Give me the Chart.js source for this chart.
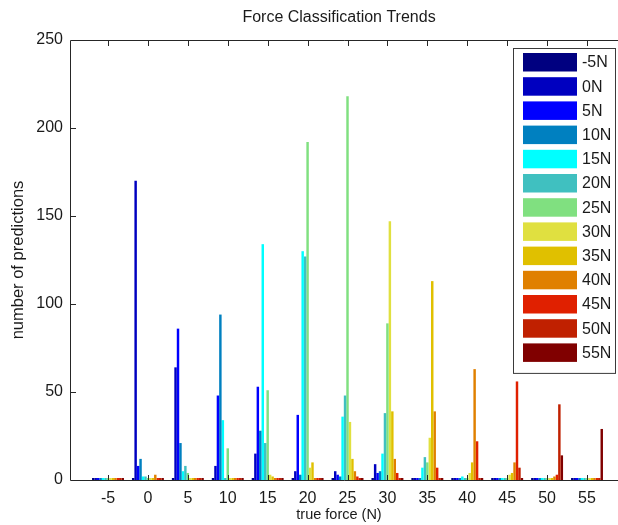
<!DOCTYPE html>
<html>
<head>
<meta charset="utf-8">
<title>Force Classification Trends</title>
<script src="https://cdn.jsdelivr.net/npm/chart.js@4.4.1/dist/chart.umd.min.js"></script>
<style>
  html, body { margin: 0; padding: 0; background: #fff; overflow: hidden; }
  canvas { display: block; }
</style>
</head>
<body>
<canvas id="forceChart" width="618" height="525"></canvas>
<script>
// true force of each group (x axis), in N
var trueForce = [-5, 0, 5, 10, 15, 20, 25, 30, 35, 40, 45, 50, 55];
var yTicks = [0, 50, 100, 150, 200, 250];

// number of predictions of each class, one value per true force
var predM5 = [0, 0, 0, 0, 0, 0, 0, 0, 0, 0, 0, 0, 0];
var pred0  = [0, 170, 64, 8, 15, 5, 5, 9, 0, 0, 0, 0, 0];
var pred5  = [0, 8, 86, 48, 53, 37, 3, 4, 1, 0, 0, 0, 0];
var pred10 = [0, 12, 21, 94, 28, 3, 2, 5, 0, 0, 0, 0, 0];
var pred15 = [0, 2, 5, 34, 134, 130, 36, 15, 7, 2, 0, 0, 0];
var pred20 = [0, 2, 8, 1, 21, 127, 48, 38, 13, 1, 0, 0, 0];
var pred25 = [0, 1, 4, 18, 51, 192, 218, 89, 10, 1, 0, 0, 0];
var pred30 = [0, 0, 0, 1, 3, 7, 33, 147, 24, 4, 3, 1, 0];
var pred35 = [0, 0, 0, 0, 2, 10, 12, 39, 113, 10, 4, 0, 0];
var pred40 = [0, 3, 0, 0, 1, 0, 5, 12, 39, 63, 10, 2, 0];
var pred45 = [0, 0, 0, 0, 0, 0, 2, 4, 7, 22, 56, 3, 0];
var pred50 = [0, 0, 0, 0, 0, 0, 0, 0, 0, 0, 7, 43, 0];
var pred55 = [0, 0, 0, 0, 0, 0, 0, 0, 0, 0, 1, 14, 29];

var seriesLabels = ['-5N', '0N', '5N', '10N', '15N', '20N', '25N', '30N', '35N', '40N', '45N', '50N', '55N'];
var seriesColors = ['#000080', '#0000c0', '#0000ff', '#0080c0', '#00ffff', '#40c0c0', '#80e080',
                    '#e0e040', '#e0c000', '#e08000', '#e02000', '#c02000', '#800000'];
var seriesValues = [predM5, pred0, pred5, pred10, pred15, pred20, pred25, pred30, pred35, pred40, pred45, pred50, pred55];

var fontFamily = '"Liberation Sans", Arial, sans-serif';
var textColor = '#1a1a1a';
var axisColor = '#262626';

var datasets = seriesValues.map(function(values, i) {
  return {
    label: seriesLabels[i],
    data: values.map(function(v, j) { return {x: trueForce[j], y: v}; }),
    backgroundColor: seriesColors[i],
    borderWidth: 0,
    minBarLength: 2,
    categoryPercentage: 0.8,
    barPercentage: 1,
    clip: false
  };
});

// matlab like box, inward ticks and boxed legend
var matlabAxes = {
  id: 'matlabAxes',
  beforeDatasetsDraw: function(chart) {
    var a = chart.chartArea, ctx = chart.ctx;
    ctx.save();
    ctx.strokeStyle = axisColor;
    ctx.lineWidth = 1;
    ctx.beginPath();
    ctx.moveTo(chart.width, Math.round(a.top) + 0.5);
    ctx.lineTo(Math.round(a.left) + 0.5, Math.round(a.top) + 0.5);
    ctx.lineTo(Math.round(a.left) + 0.5, Math.round(a.bottom) + 0.5);
    ctx.lineTo(chart.width, Math.round(a.bottom) + 0.5);
    ctx.stroke();
    ctx.restore();
  },
  afterDatasetsDraw: function(chart) {
    var a = chart.chartArea, ctx = chart.ctx;
    var xs = chart.scales.x, ys = chart.scales.y;
    ctx.save();
    ctx.strokeStyle = axisColor;
    ctx.lineWidth = 1;
    ctx.beginPath();
    trueForce.forEach(function(v) {
      var px = Math.round(xs.getPixelForValue(v)) + 0.5;
      ctx.moveTo(px, Math.round(a.bottom));
      ctx.lineTo(px, Math.round(a.bottom) - 5);
      ctx.moveTo(px, Math.round(a.top) + 1);
      ctx.lineTo(px, Math.round(a.top) + 6);
    });
    yTicks.forEach(function(v) {
      var py = Math.round(ys.getPixelForValue(v)) + 0.5;
      ctx.moveTo(Math.round(a.left) + 1, py);
      ctx.lineTo(Math.round(a.left) + 6, py);
    });
    ctx.stroke();
    ctx.restore();
  },
  afterDraw: function(chart) {
    var a = chart.chartArea, ctx = chart.ctx;
    var boxRight = chart.width - 3, boxLeft = boxRight - 102;
    var boxTop = a.top + 8, rowH = 24.2;
    var n = chart.data.datasets.length;
    var boxH = 10 + (n - 1) * rowH + 18.5 + 6;
    ctx.save();
    ctx.fillStyle = '#fff';
    ctx.fillRect(boxLeft, boxTop, boxRight - boxLeft, boxH);
    ctx.strokeStyle = '#3a3a3a';
    ctx.lineWidth = 1;
    ctx.strokeRect(boxLeft + 0.5, boxTop + 0.5, boxRight - boxLeft, boxH);
    ctx.font = '16px ' + fontFamily;
    ctx.textBaseline = 'middle';
    ctx.textAlign = 'left';
    chart.data.datasets.forEach(function(ds, i) {
      var y = boxTop + 5 + i * rowH;
      ctx.fillStyle = ds.backgroundColor;
      ctx.fillRect(boxLeft + 10, y, 54, 18.5);
      ctx.fillStyle = textColor;
      ctx.fillText(ds.label, boxLeft + 69, y + 10);
    });
    ctx.restore();
  }
};

var ctx = document.getElementById('forceChart').getContext('2d');
var chart = new Chart(ctx, {
  type: 'bar',
  data: { datasets: datasets },
  options: {
    responsive: false,
    animation: false,
    layout: { padding: { left: 0, right: 10, top: 0, bottom: 0 } },
    plugins: {
      legend: { display: false },
      tooltip: { enabled: false },
      title: {
        display: true,
        text: 'Force Classification Trends',
        fullSize: false,
        color: textColor,
        font: { family: fontFamily, size: 16, weight: 'normal' },
        padding: { top: 8, bottom: 12.8 }
      }
    },
    scales: {
      x: {
        type: 'linear',
        offset: false,
        min: -9.76,
        max: 57.63,
        grid: { display: false, drawTicks: false, offset: false },
        border: { display: false },
        afterBuildTicks: function(scale) {
          scale.ticks = trueForce.map(function(v) { return {value: v}; });
        },
        afterFit: function(scale) { scale.height = 45; },
        ticks: {
          color: textColor,
          font: { family: fontFamily, size: 16 },
          padding: 9,
          maxRotation: 0,
          autoSkip: false
        },
        title: {
          display: true,
          text: 'true force (N)',
          color: textColor,
          font: { family: fontFamily, size: 14.5 },
          padding: { top: 0, bottom: 1 }
        }
      },
      y: {
        min: 0,
        max: 250,
        grid: { display: false, drawTicks: false },
        border: { display: false },
        afterBuildTicks: function(scale) {
          scale.ticks = yTicks.map(function(v) { return {value: v}; });
        },
        afterFit: function(scale) { scale.width = 70; },
        ticks: {
          color: textColor,
          font: { family: fontFamily, size: 16 },
          padding: 7
        },
        title: {
          display: true,
          text: 'number of predictions',
          color: textColor,
          font: { family: fontFamily, size: 16.5 },
          padding: { top: 9, bottom: 0 }
        }
      }
    }
  },
  plugins: [matlabAxes]
});
</script>
</body>
</html>
